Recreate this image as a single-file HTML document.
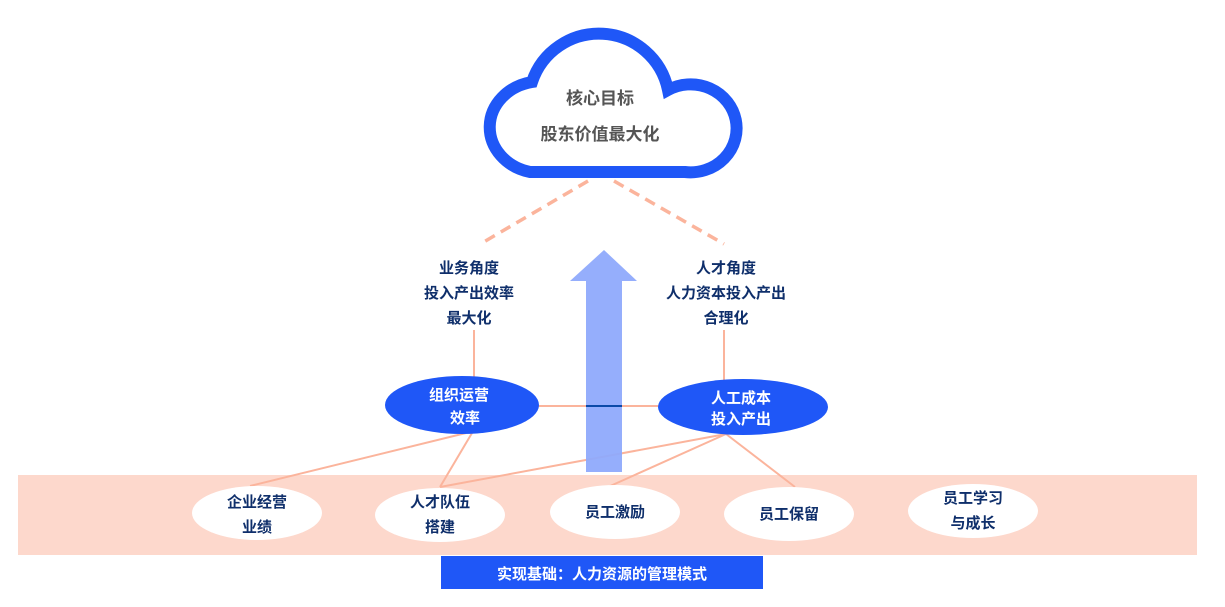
<!DOCTYPE html>
<html><head><meta charset="utf-8"><style>
body{margin:0;background:#fff;width:1225px;height:607px;overflow:hidden;font-family:"Liberation Sans","Noto Sans CJK SC",sans-serif}
svg{position:absolute;left:0;top:0}
text{font-family:"Liberation Sans","Noto Sans CJK SC",sans-serif;font-weight:bold}
</style></head><body>
<svg width="1225" height="607" viewBox="0 0 1225 607">
<rect x="18" y="475" width="1179" height="80" fill="#fdd8cc"/>
<rect x="441" y="556" width="322" height="33" fill="#1f57f7"/>
<text x="602" y="579" fill="#fff" font-size="15" text-anchor="middle">实现基础：人力资源的管理模式</text>
<path d="M530 172 A52 46 0 0 1 532 82 A70.5 70.5 0 0 1 668 90 A46 44 0 1 1 685 172 Z" fill="#fff" stroke="#1f57f7" stroke-width="12"/>
<text x="600" y="104" fill="#555" font-size="17" text-anchor="middle">核心目标</text>
<text x="600" y="140" fill="#555" font-size="17" text-anchor="middle">股东价值最大化</text>
<g stroke="#fbb49c" stroke-width="3.5" stroke-dasharray="11 7"><line x1="588" y1="181" x2="482" y2="243"/><line x1="614" y1="181" x2="724" y2="244"/></g>
<g fill="#0f2f6b" font-size="15" text-anchor="middle">
<text x="469" y="273">业务角度</text><text x="469" y="298">投入产出效率</text><text x="469" y="323">最大化</text>
<text x="726" y="273">人才角度</text><text x="726" y="298">人力资本投入产出</text><text x="726" y="323">合理化</text></g>
<g stroke="#fbb49c" stroke-width="2">
<line x1="474" y1="330" x2="474" y2="383"/><line x1="724" y1="330" x2="724" y2="381"/>
<line x1="538" y1="406" x2="660" y2="406"/>
<line x1="466" y1="433" x2="250" y2="486"/><line x1="472" y1="433" x2="440" y2="487"/>
<line x1="726" y1="434" x2="440" y2="487"/><line x1="726" y1="434" x2="608" y2="487"/><line x1="726" y1="434" x2="795" y2="487"/></g>
<path d="M586 472 V281 H570 L604 250 L637 281 H622 V472 Z" fill="#8faafc" opacity="0.95"/>
<line x1="586" y1="406" x2="622" y2="406" stroke="#0b4aa8" stroke-width="2"/>
<ellipse cx="462" cy="405" rx="77" ry="29" fill="#1f57f7"/>
<ellipse cx="743" cy="407" rx="85" ry="28" fill="#1f57f7"/>
<g fill="#fff" font-size="15" text-anchor="middle">
<text x="459" y="400">组织运营</text><text x="465" y="423">效率</text>
<text x="741" y="403">人工成本</text><text x="741" y="424">投入产出</text></g>
<g fill="#fff"><ellipse cx="257" cy="513" rx="65" ry="27"/><ellipse cx="440" cy="515" rx="65" ry="27"/><ellipse cx="615" cy="512" rx="65" ry="27"/><ellipse cx="789" cy="514" rx="65" ry="27"/><ellipse cx="973" cy="511" rx="65" ry="27"/></g>
<g fill="#0f2f6b" font-size="15" text-anchor="middle">
<text x="257" y="507">企业经营</text><text x="257" y="532">业绩</text>
<text x="440" y="507">人才队伍</text><text x="440" y="532">搭建</text>
<text x="615" y="517">员工激励</text>
<text x="789" y="519">员工保留</text>
<text x="973" y="503">员工学习</text><text x="973" y="528">与成长</text></g>
</svg>
</body></html>
